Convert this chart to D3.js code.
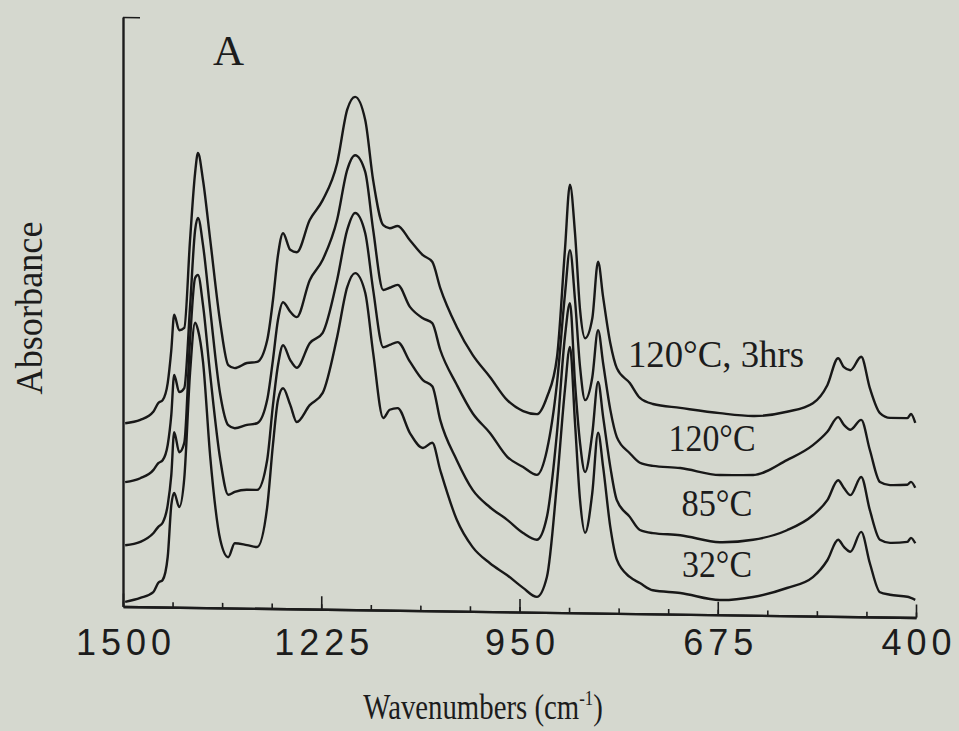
<!DOCTYPE html>
<html lang="en">
    <head>
        <meta charset="UTF-8" />
        <title>D3</title>
        <script src="https://d3js.org/d3.v7.min.js"></script>
        <style>
            body {
                margin: 0;
                background: #d5d8cf;
            }
        </style>
    </head>
    <body>
        <div class="canvas"></div>
        <script>
            // wavenumbers (cm-1)
            const wavenumbers = [
                1497, 1476, 1458, 1451, 1445, 1438, 1433, 1429, 1422, 1415,
                1407, 1400, 1396, 1389, 1379, 1365, 1354, 1345, 1328, 1314,
                1300, 1292, 1285, 1278, 1268, 1259, 1241, 1223, 1203, 1189,
                1178, 1164, 1153, 1139, 1130, 1119, 1102, 1084, 1071, 1060,
                1037, 1015, 991, 967, 945, 926, 912, 898, 887, 880,
                873, 866, 859, 849, 841, 834, 824, 815, 797, 783,
                765, 727, 672, 626, 579, 543, 523, 508, 500, 491,
                476, 464, 450, 436, 412, 407, 401,
            ];

            // absorbance (stacked, arbitrary units)
            const abs120h3 = [
                0.311, 0.317, 0.331, 0.346, 0.351, 0.380, 0.436, 0.496, 0.470, 0.474,
                0.623, 0.737, 0.771, 0.725, 0.624, 0.483, 0.412, 0.407, 0.416, 0.418,
                0.455, 0.523, 0.600, 0.637, 0.609, 0.605, 0.660, 0.694, 0.757, 0.848,
                0.870, 0.831, 0.729, 0.653, 0.648, 0.652, 0.628, 0.603, 0.592, 0.548,
                0.482, 0.435, 0.398, 0.359, 0.341, 0.336, 0.365, 0.433, 0.615, 0.726,
                0.644, 0.514, 0.466, 0.500, 0.596, 0.536, 0.458, 0.416, 0.391, 0.366,
                0.356, 0.350, 0.342, 0.338, 0.346, 0.361, 0.392, 0.438, 0.423, 0.418,
                0.441, 0.388, 0.346, 0.338, 0.338, 0.345, 0.330,
            ];
            const abs120 = [
                0.211, 0.218, 0.232, 0.244, 0.249, 0.275, 0.326, 0.394, 0.365, 0.372,
                0.510, 0.640, 0.661, 0.615, 0.505, 0.361, 0.310, 0.305, 0.311, 0.314,
                0.354, 0.422, 0.490, 0.520, 0.504, 0.495, 0.558, 0.593, 0.661, 0.746,
                0.771, 0.743, 0.645, 0.543, 0.547, 0.552, 0.515, 0.496, 0.488, 0.443,
                0.384, 0.336, 0.303, 0.263, 0.246, 0.233, 0.275, 0.389, 0.539, 0.615,
                0.531, 0.417, 0.361, 0.400, 0.480, 0.424, 0.345, 0.299, 0.272, 0.256,
                0.251, 0.248, 0.237, 0.238, 0.264, 0.290, 0.313, 0.338, 0.325, 0.317,
                0.334, 0.283, 0.229, 0.224, 0.225, 0.230, 0.220,
            ];
            const abs85 = [
                0.104, 0.110, 0.125, 0.136, 0.143, 0.173, 0.224, 0.297, 0.263, 0.279,
                0.454, 0.559, 0.564, 0.513, 0.395, 0.251, 0.192, 0.197, 0.201, 0.201,
                0.252, 0.345, 0.413, 0.447, 0.422, 0.409, 0.451, 0.469, 0.559, 0.644,
                0.673, 0.639, 0.543, 0.446, 0.450, 0.455, 0.422, 0.391, 0.381, 0.324,
                0.256, 0.206, 0.177, 0.156, 0.134, 0.123, 0.162, 0.305, 0.468, 0.525,
                0.390, 0.288, 0.239, 0.305, 0.392, 0.333, 0.248, 0.192, 0.164, 0.142,
                0.137, 0.134, 0.123, 0.128, 0.145, 0.171, 0.197, 0.231, 0.218, 0.206,
                0.237, 0.181, 0.131, 0.126, 0.128, 0.135, 0.126,
            ];
            const abs32 = [
                0.008, 0.015, 0.025, 0.041, 0.046, 0.085, 0.173, 0.194, 0.170, 0.219,
                0.398, 0.483, 0.471, 0.417, 0.256, 0.115, 0.086, 0.110, 0.107, 0.104,
                0.172, 0.278, 0.354, 0.374, 0.346, 0.317, 0.346, 0.367, 0.462, 0.547,
                0.571, 0.538, 0.436, 0.326, 0.340, 0.343, 0.301, 0.276, 0.285, 0.239,
                0.155, 0.109, 0.082, 0.062, 0.041, 0.026, 0.060, 0.220, 0.378, 0.451,
                0.322, 0.191, 0.136, 0.204, 0.306, 0.248, 0.146, 0.091, 0.062, 0.052,
                0.040, 0.036, 0.025, 0.031, 0.047, 0.066, 0.095, 0.130, 0.118, 0.110,
                0.144, 0.091, 0.042, 0.038, 0.035, 0.033, 0.030,
            ];

            const seriesNames = ["120°C, 3hrs", "120°C", "85°C", "32°C"];
            const majorTicks = [1500, 1225, 950, 675, 400];
            const minorStep = 68.75;

            const width = 959;
            const height = 731;

            const svg = d3
                .select(".canvas")
                .append("svg")
                .attr("width", width)
                .attr("height", height)
                .style("background", "#d5d8cf");

            const x = d3.scaleLinear().domain([1500, 400]).range([123, 916]);
            const y = d3.scaleLinear().domain([0, 1]).range([606.5, 17]);

            // the scan is slightly sheared, the baseline drops to the right
            const graph = svg
                .append("g")
                .attr("transform", `translate(${x(1500)}, 0) skewY(0.795) translate(${-x(1500)}, 0)`);

            const minorTicks = d3.range(0, 17).map((i) => 1500 - i * minorStep);

            const xAxisMinor = d3
                .axisBottom(x)
                .tickValues(minorTicks)
                .tickSize(-5)
                .tickSizeOuter(0)
                .tickFormat("");
            const xAxisMajor = d3
                .axisBottom(x)
                .tickValues(majorTicks)
                .tickSize(-13)
                .tickSizeOuter(0)
                .tickFormat("");

            graph.append("g").attr("transform", `translate(0, ${y(0)})`).call(xAxisMinor);
            graph.append("g").attr("transform", `translate(0, ${y(0)})`).call(xAxisMajor);

            const yAxis = d3
                .axisRight(y)
                .tickValues([1])
                .tickSize(17)
                .tickSizeOuter(0)
                .tickFormat("");
            graph.append("g").attr("transform", `translate(${x(1500)}, 0)`).call(yAxis);

            graph
                .selectAll(".domain, .tick line")
                .attr("stroke", "#1c1c1c")
                .attr("stroke-width", 2.4);
            graph.selectAll(".tick line").attr("stroke-width", 1.6);

            const allSeries = [abs120h3, abs120, abs85, abs32].map((vals, i) => ({
                name: seriesNames[i],
                values: wavenumbers.map((w, j) => [w, vals[j]]),
            }));

            const line = d3
                .line()
                .x((d) => x(d[0]))
                .y((d) => y(d[1]))
                .curve(d3.curveMonotoneX);

            graph
                .selectAll(".spectrum")
                .data(allSeries)
                .enter()
                .append("path")
                .attr("class", "spectrum")
                .attr("fill", "none")
                .attr("stroke", "#181818")
                .attr("stroke-width", 2.4)
                .attr("stroke-linejoin", "round")
                .attr("d", (d) => line(d.values));

            // tick labels (not sheared as much as the lines)
            const labelAxis = d3.axisBottom(x).tickValues(majorTicks).tickSize(0).tickFormat(d3.format("d"));
            const labelG = svg.append("g").attr("transform", `translate(0, ${y(0)})`).call(labelAxis);
            labelG.select(".domain").remove();
            labelG
                .selectAll("text")
                .attr("y", 48)
                .attr("dy", null)
                .attr("dx", 2.5)
                .attr("fill", "#1c1c1c")
                .style("font-family", "'Liberation Sans', Arial, sans-serif")
                .style("font-size", "36px")
                .style("letter-spacing", "5px");

            const serif = "'Liberation Serif', 'Times New Roman', serif";

            // series labels
            const labelPos = [
                [716, 367, 176],
                [712, 451, 87],
                [717, 516, 71],
                [717, 577, 70],
            ];
            svg.selectAll(".series-label")
                .data(seriesNames)
                .enter()
                .append("text")
                .attr("class", "series-label")
                .attr("x", (d, i) => labelPos[i][0])
                .attr("y", (d, i) => labelPos[i][1])
                .attr("text-anchor", "middle")
                .attr("textLength", (d, i) => labelPos[i][2])
                .attr("lengthAdjust", "spacingAndGlyphs")
                .attr("fill", "#1c1c1c")
                .style("font-family", serif)
                .style("font-size", "37px")
                .text((d) => d);

            svg.append("text")
                .attr("x", 213)
                .attr("y", 65)
                .attr("fill", "#1c1c1c")
                .style("font-family", serif)
                .style("font-size", "43px")
                .text("A");

            svg.append("text")
                .attr("transform", "translate(42, 308) rotate(-90)")
                .attr("text-anchor", "middle")
                .attr("textLength", 173)
                .attr("lengthAdjust", "spacingAndGlyphs")
                .attr("fill", "#1c1c1c")
                .style("font-family", serif)
                .style("font-size", "37px")
                .text("Absorbance");

            // condensed like the scanned caption
            const xTitle = svg
                .append("text")
                .attr("transform", "translate(483, 719) scale(0.8, 1)")
                .attr("text-anchor", "middle")
                .attr("fill", "#1c1c1c")
                .style("font-family", serif)
                .style("font-size", "36px");
            xTitle.append("tspan").text("Wavenumbers (cm");
            xTitle.append("tspan").attr("dy", -14).style("font-size", "21px").text("-1");
            xTitle.append("tspan").attr("dy", 14).text(")");
        </script>
    </body>
</html>
